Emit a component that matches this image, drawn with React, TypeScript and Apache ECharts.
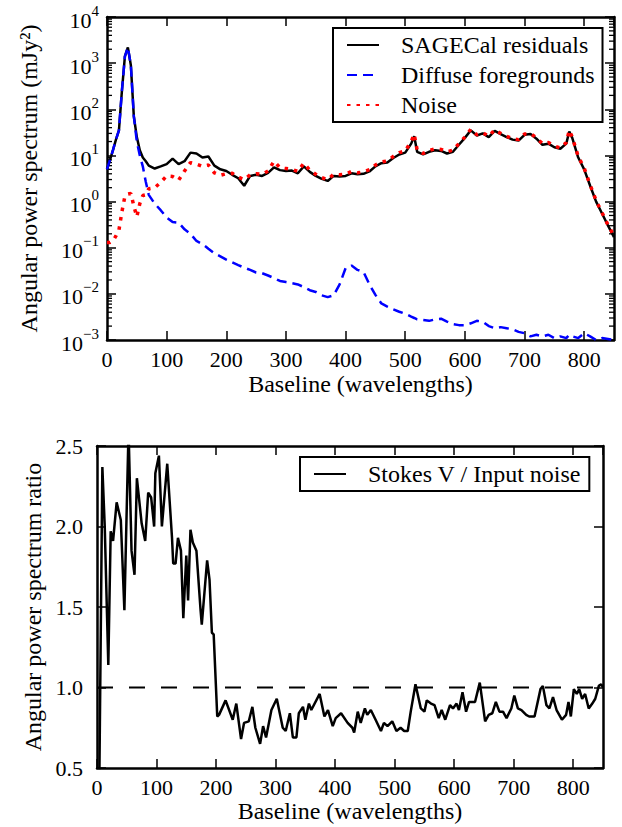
import React, { useEffect, useRef } from "react";
import * as echarts from "echarts";

// ---------- Top panel: angular power spectra ----------
const baseline = [
  0, 5, 10, 15, 20, 25, 30, 35, 40, 45,
  50, 55, 60, 65, 70, 80, 90, 100, 110, 120,
  130, 140, 150, 160, 170, 180, 190, 200, 210, 220,
  230, 240, 250, 260, 270, 280, 290, 300, 310, 320,
  330, 340, 350, 360, 370, 380, 390, 400, 410, 420,
  430, 440, 450, 460, 470, 480, 490, 500, 510, 515,
  520, 530, 540, 550, 560, 570, 580, 590, 600, 610,
  620, 630, 640, 650, 660, 670, 680, 690, 700, 710,
  720, 730, 740, 750, 760, 770, 775, 780, 790, 800,
  810, 820, 830, 840, 850,
];

const sagecalResiduals = [
  5, 8, 13, 22, 35, 250, 1400, 2200, 900, 70,
  25, 13, 9, 7.5, 6, 5.2, 5.8, 6.5, 8.5, 6.5,
  7.5, 11.5, 11, 9, 9.5, 6, 5, 4.6, 3.8, 3.2,
  2.2, 3.6, 3.8, 3.6, 4.2, 5.5, 4.8, 4.6, 4.7, 4.1,
  5.8, 4.4, 3.6, 3.1, 2.8, 3.6, 3.5, 3.6, 4.1, 3.9,
  4.0, 4.5, 5.8, 6.8, 7.0, 8.8, 10.5, 11.5, 18, 26,
  12, 10.5, 12, 13, 12.5, 11, 12, 17, 24, 35,
  27, 30, 25, 34, 29, 25, 22, 21, 28, 29,
  23, 17, 18, 15, 14, 18, 33, 24, 9, 5,
  2.2, 1.0, 0.55, 0.3, 0.17,
];

const diffuseForegrounds = [
  5, 8, 13, 22, 35, 250, 1400, 2200, 900, 70,
  20, 10, 5.8, 2.7, 1.4, 0.9, 0.65, 0.45, 0.36, 0.35,
  0.25, 0.2, 0.14, 0.12, 0.095, 0.076, 0.065, 0.055, 0.048, 0.042,
  0.037, 0.033, 0.029, 0.028, 0.025, 0.022, 0.019, 0.018, 0.017, 0.016,
  0.014, 0.012, 0.011, 0.0093, 0.0085, 0.0093, 0.016, 0.036, 0.041, 0.033,
  0.03, 0.016, 0.0095, 0.0062, 0.0053, 0.0046, 0.0041, 0.0037, 0.0032, 0.003,
  0.0028, 0.0027, 0.0026, 0.0028, 0.0029, 0.0025, 0.0022, 0.0021, 0.0021, 0.0023,
  0.0026, 0.0025, 0.002, 0.0018, 0.0019, 0.0018, 0.0017, 0.0015, 0.0014, 0.0012,
  0.0013, 0.0012, 0.0013, 0.0011, 0.0012, 0.0011, 0.0013, 0.0012, 0.0011, 0.0014,
  0.0012, 0.001, 0.0011, 0.00105, 0.001,
];

const noise = [
  0.13, 0.13, 0.14, 0.18, 0.24, 0.6, 1.3, 1.45, 1.5, 0.8,
  0.47, 0.9, 1.35, 1.4, 1.9, 2.0, 2.6, 3.6, 3.5, 2.9,
  4.6, 7.0, 6.5, 5.8, 6.2, 4.2, 3.7, 4.0, 4.1, 3.4,
  3.0, 3.8, 4.0, 3.9, 4.6, 7.5, 5.4, 5.2, 5.0, 4.5,
  6.8, 4.8, 3.9, 3.3, 3.0, 3.9, 3.8, 3.9, 4.5, 4.2,
  4.4, 4.9, 6.2, 7.2, 7.6, 9.5, 11.5, 12.5, 20, 29,
  13, 11, 12.8, 14, 13.5, 12, 13, 18, 25, 37,
  28, 31, 26, 36, 30, 26, 23, 22, 29, 30,
  24, 18, 19, 16, 14.5, 19, 35, 25, 9.5, 5.3,
  2.3, 1.05, 0.57, 0.31, 0.18,
];

// ---------- Bottom panel: Stokes V / input noise ----------
const stokesVRatio: [number, number][] = [
  [0, 0.3], [4, 0.45], [9, 2.37], [13, 2.0], [19, 1.14], [23, 1.97], [27, 1.91], [33, 2.15],
  [40, 2.04], [46, 1.48], [53, 2.6], [58, 1.85], [63, 1.7], [67, 2.3], [75, 2.02], [81, 1.91],
  [86, 2.21], [91, 2.18], [96, 2.0], [98, 2.33], [104, 2.44], [109, 2.0], [118, 2.39], [126, 1.93],
  [128, 1.77], [132, 1.77], [136, 1.93], [141, 1.85], [145, 1.43], [150, 1.82], [153, 1.54],
  [157, 1.98], [161, 1.9], [167, 1.85], [174, 1.48], [176, 1.39], [185, 1.79], [189, 1.67],
  [193, 1.34], [196, 1.33], [202, 0.82], [205, 0.83], [216, 0.92], [228, 0.8], [234, 0.9],
  [242, 0.68], [247, 0.78], [255, 0.79], [261, 0.88], [266, 0.75], [274, 0.65], [279, 0.76],
  [284, 0.69], [293, 0.86], [302, 0.93], [312, 0.75], [317, 0.73], [324, 0.84], [329, 0.69],
  [335, 0.69], [339, 0.84], [346, 0.88], [350, 0.8], [356, 0.9], [360, 0.86], [374, 0.96],
  [382, 0.82], [388, 0.86], [396, 0.76], [401, 0.81], [410, 0.84], [421, 0.78], [429, 0.75],
  [432, 0.72], [438, 0.85], [443, 0.78], [450, 0.87], [454, 0.83], [460, 0.86], [468, 0.8],
  [477, 0.73], [482, 0.78], [488, 0.76], [496, 0.79], [503, 0.73], [510, 0.75], [516, 0.73],
  [522, 0.73], [527, 0.85], [535, 1.02], [544, 0.87], [550, 0.85], [554, 0.92], [561, 0.9],
  [567, 0.89], [574, 0.81], [579, 0.86], [585, 0.8], [593, 0.89], [598, 0.87], [604, 0.9],
  [608, 0.86], [614, 0.97], [620, 0.85], [625, 0.91], [635, 0.91], [643, 1.03], [652, 0.79],
  [658, 0.83], [664, 0.84], [670, 0.91], [676, 0.85], [682, 0.85], [688, 0.81], [696, 0.87],
  [701, 0.95], [707, 0.87], [713, 0.86], [721, 0.83], [726, 0.82], [735, 0.82], [745, 0.99],
  [749, 1.01], [755, 0.89], [760, 0.87], [766, 0.94], [772, 0.86], [781, 0.8], [788, 0.83],
  [792, 0.91], [796, 0.82], [801, 0.99], [806, 0.96], [810, 0.99], [815, 0.93], [820, 0.96],
  [826, 0.87], [832, 0.9], [837, 0.93], [843, 1.01], [847, 1.02], [850, 1.0],
];

const unityRatio = 1;
const baselineRange = [0, 850];
const ratioRange = [0.5, 2.5];
const powerRange = [1e-3, 1e4];
const minorMultipliers = [2, 3, 4, 5, 6, 7, 8, 9];
const minorDecades = [-3, -2, -1, 0, 1, 2, 3];

const FONT = "'Liberation Serif', 'Times New Roman', serif";
const BLACK = "#000";

export default function App() {
  const ref = useRef<HTMLDivElement>(null);

  useEffect(() => {
    document.body.style.margin = "0";
    if (!ref.current) return;
    const chart = echarts.init(ref.current, undefined, { renderer: "svg" });

    const minorTicks: number[][] = [];
    minorDecades.forEach((d) =>
      minorMultipliers.forEach((m) => minorTicks.push([0, m * Math.pow(10, d)]))
    );

    const axisLine = { show: true, onZero: false, lineStyle: { color: BLACK, width: 2.5 } };
    const tick = { show: true, inside: true, length: 9, lineStyle: { color: BLACK, width: 1.5 } };
    const tickLabel = { color: BLACK, fontFamily: FONT, fontSize: 22 };
    const nameStyle = { color: BLACK, fontFamily: FONT, fontSize: 24 };
    const legendText = {
      color: BLACK,
      fontFamily: FONT,
      fontSize: 24,
      lineHeight: 24,
      padding: [0, 0, 0, 17],
    };

    const xBase = (grid: number, pos: "top" | "bottom", extra: any = {}) => ({
      gridIndex: grid,
      type: "value",
      min: baselineRange[0],
      max: baselineRange[1],
      interval: 100,
      position: pos,
      axisLine,
      axisTick: tick,
      splitLine: { show: false },
      axisLabel: { show: false },
      ...extra,
    });

    const supFormatter = (v: number) => {
      const e = Math.round(Math.log10(v));
      const s = e < 0 ? "\u2212" + String(-e) : String(e);
      return `{b|10}{s|${s}}`;
    };

    const option: any = {
      animation: false,
      backgroundColor: "#fff",
      textStyle: { fontFamily: FONT },
      grid: [
        { left: 107, top: 17, width: 507, height: 323 },
        { left: 97, top: 446, width: 506, height: 322 },
      ],
      legend: [
        {
          data: ["SAGECal residuals", "Diffuse foregrounds", "Noise"],
          orient: "vertical",
          left: 333,
          top: 28,
          itemWidth: 32,
          itemHeight: 14,
          itemGap: 6,
          padding: [5, 8, 5, 13],
          borderColor: BLACK,
          borderWidth: 2,
          backgroundColor: "#fff",
          itemStyle: { opacity: 0 },
          textStyle: legendText,
        },
        {
          data: ["Stokes V / Input noise"],
          orient: "vertical",
          left: 300,
          top: 457,
          itemWidth: 32,
          itemHeight: 14,
          padding: [5, 8, 5, 13],
          borderColor: BLACK,
          borderWidth: 2,
          backgroundColor: "#fff",
          itemStyle: { opacity: 0 },
          textStyle: legendText,
        },
      ],
      xAxis: [
        xBase(0, "bottom", {
          axisLabel: { ...tickLabel, margin: 8, showMaxLabel: false },
          name: "Baseline (wavelengths)",
          nameLocation: "middle",
          nameGap: 32,
          nameTextStyle: nameStyle,
        }),
        xBase(0, "top"),
        xBase(1, "bottom", {
          axisLabel: { ...tickLabel, margin: 8, showMaxLabel: false },
          name: "Baseline (wavelengths)",
          nameLocation: "middle",
          nameGap: 30,
          nameTextStyle: nameStyle,
        }),
        xBase(1, "top"),
      ],
      yAxis: [
        {
          gridIndex: 0,
          type: "log",
          logBase: 10,
          min: powerRange[0],
          max: powerRange[1],
          splitNumber: 7,
          position: "left",
          axisLine,
          axisTick: tick,
          splitLine: { show: false },
          axisLabel: {
            margin: 8,
            formatter: supFormatter,
            rich: {
              b: { color: BLACK, fontFamily: FONT, fontSize: 22, lineHeight: 28, verticalAlign: "bottom" },
              s: { color: BLACK, fontFamily: FONT, fontSize: 15, lineHeight: 16, verticalAlign: "top" },
            },
          },
          name: "Angular power spectrum (mJy\u00B2)",
          nameLocation: "middle",
          nameRotate: 90,
          nameGap: 66,
          nameTextStyle: nameStyle,
        },
        {
          gridIndex: 0,
          type: "log",
          logBase: 10,
          min: powerRange[0],
          max: powerRange[1],
          splitNumber: 7,
          position: "right",
          axisLine,
          axisTick: tick,
          splitLine: { show: false },
          axisLabel: { show: false },
        },
        {
          gridIndex: 1,
          type: "value",
          min: ratioRange[0],
          max: ratioRange[1],
          interval: 0.5,
          position: "left",
          axisLine,
          axisTick: tick,
          splitLine: { show: false },
          axisLabel: { ...tickLabel, margin: 14, formatter: (v: number) => v.toFixed(1) },
          name: "Angular power spectrum ratio",
          nameLocation: "middle",
          nameRotate: 90,
          nameGap: 52,
          nameTextStyle: nameStyle,
        },
        {
          gridIndex: 1,
          type: "value",
          min: ratioRange[0],
          max: ratioRange[1],
          interval: 0.5,
          position: "right",
          axisLine,
          axisTick: tick,
          splitLine: { show: false },
          axisLabel: { show: false },
        },
      ],
      series: [
        {
          name: "SAGECal residuals",
          type: "line",
          xAxisIndex: 0,
          yAxisIndex: 0,
          data: baseline.map((b, i) => [b, sagecalResiduals[i]]),
          symbol: "none",
          color: BLACK,
          lineStyle: { color: BLACK, width: 2.5 },
        },
        {
          name: "Diffuse foregrounds",
          type: "line",
          xAxisIndex: 0,
          yAxisIndex: 0,
          data: baseline.map((b, i) => [b, diffuseForegrounds[i]]),
          symbol: "none",
          color: "#0000ff",
          lineStyle: { color: "#0000ff", width: 2.5, type: [10, 6], cap: "butt" },
        },
        {
          name: "Noise",
          type: "line",
          xAxisIndex: 0,
          yAxisIndex: 0,
          data: baseline.map((b, i) => [b, noise[i]]),
          symbol: "none",
          color: "#ff0000",
          lineStyle: { color: "#ff0000", width: 3.5, type: [3.5, 6], cap: "butt" },
        },
        {
          name: "minor ticks",
          type: "custom",
          xAxisIndex: 0,
          yAxisIndex: 0,
          silent: true,
          clip: false,
          data: minorTicks,
          renderItem: (params: any, api: any) => {
            const cs = params.coordSys;
            const y = api.coord([0, api.value(1)])[1];
            const st = { stroke: BLACK, lineWidth: 1.3 };
            return {
              type: "group",
              children: [
                { type: "line", shape: { x1: cs.x, y1: y, x2: cs.x + 5, y2: y }, style: st },
                { type: "line", shape: { x1: cs.x + cs.width - 5, y1: y, x2: cs.x + cs.width, y2: y }, style: st },
              ],
            };
          },
        },
        {
          name: "Unity",
          type: "line",
          xAxisIndex: 2,
          yAxisIndex: 2,
          data: [
            [baselineRange[0], unityRatio],
            [baselineRange[1], unityRatio],
          ],
          symbol: "none",
          color: BLACK,
          lineStyle: { color: BLACK, width: 2, type: [16, 16], cap: "butt" },
        },
        {
          name: "Stokes V / Input noise",
          type: "line",
          xAxisIndex: 2,
          yAxisIndex: 2,
          data: stokesVRatio,
          symbol: "none",
          color: BLACK,
          lineStyle: { color: BLACK, width: 2.5 },
        },
      ],
    };

    chart.setOption(option);
    return () => chart.dispose();
  }, []);

  return <div ref={ref} style={{ width: 622, height: 827 }} />;
}
